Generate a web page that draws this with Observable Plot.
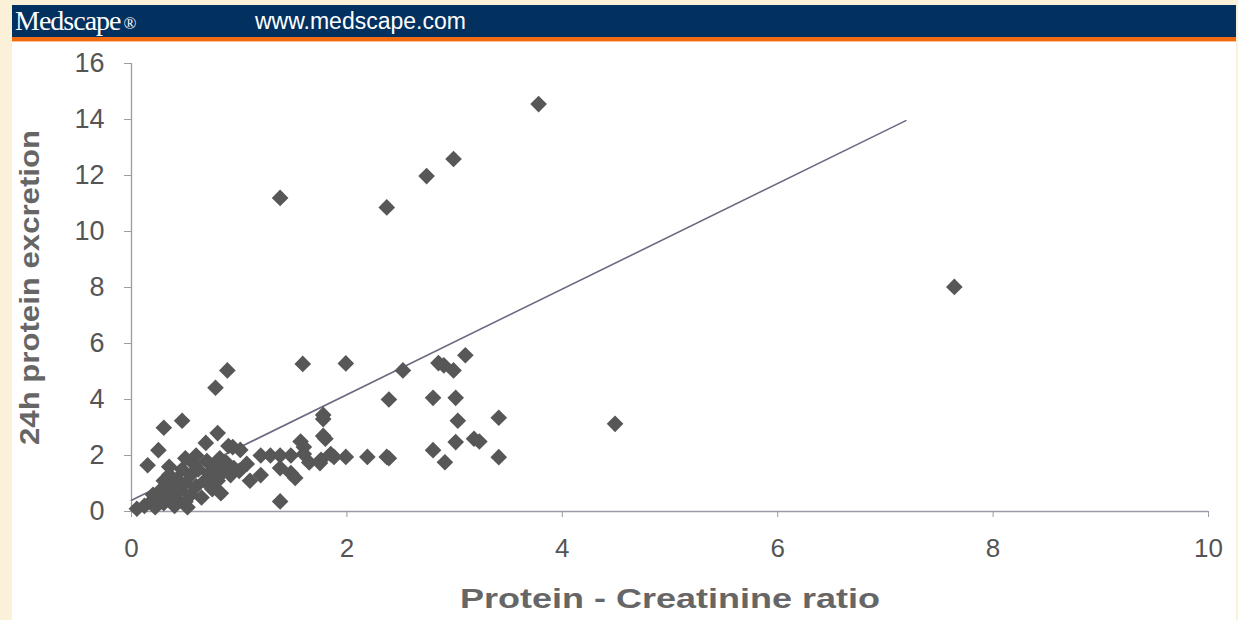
<!DOCTYPE html>
<html>
<head>
<meta charset="utf-8">
<script src="https://cdn.jsdelivr.net/npm/d3@7"></script>
<script src="https://cdn.jsdelivr.net/npm/@observablehq/plot@0.6"></script>
<style>
  html, body { margin: 0; padding: 0; }
  body { width: 1238px; height: 620px; background: #fbf0d8; position: relative; overflow: hidden; font-family: "Liberation Sans", Arial, sans-serif; }
  #panel { position: absolute; left: 12px; top: 5px; width: 1224px; height: 615px; background: #fff; }
  #header { height: 32px; background: #02305f; position: relative; border-bottom: 4px solid #f06a12; box-shadow: 0 1px 0 #fcc08c; }
  #brand { position: absolute; left: 3px; top: 0px; color: #fff; font-family: "Liberation Serif", "DejaVu Serif", serif; font-size: 28px; letter-spacing: -1px; }
  #brand sup { font-size: 17px; vertical-align: 1px; letter-spacing: 0; margin-left: 3px; }
  #url { position: absolute; left: 243px; top: 3px; color: #fff; font-size: 23px; }
  #chart { position: absolute; left: 0; top: 37px; }
</style>
</head>
<body>
<div id="panel">
  <div id="header"><span id="brand">Medscape<sup>®</sup></span><span id="url">www.medscape.com</span></div>
  <div id="chart"></div>
</div>
<script>
// Protein–creatinine ratio (x) and 24h protein excretion (y)
const ratio = [
  3.78, 1.38, 2.37, 2.74, 2.99, 7.64, 4.49,
  1.59, 1.99, 2.52, 2.90, 2.99, 3.10, 2.85,
  0.89, 0.78,
  2.39, 2.80, 3.01, 3.03, 3.41, 3.18, 3.23, 3.01, 2.80, 2.91, 3.41, 1.99, 2.19, 2.39, 2.37,
  1.78, 1.78, 1.78, 1.80, 1.57, 1.60,
  0.30, 0.47, 0.25, 0.15, 0.80, 0.69, 0.90, 1.01, 0.94,
  1.20, 1.29, 1.38, 1.48, 1.60, 1.76, 1.88,
  1.38, 1.38, 1.48, 1.52, 1.10, 1.20, 1.07, 1.65, 1.75, 1.85,
  0.05, 0.12, 0.18, 0.20, 0.22, 0.25, 0.28, 0.30, 0.30, 0.33, 0.35, 0.38, 0.40, 0.40,
  0.42, 0.45, 0.47, 0.50, 0.50, 0.50, 0.52, 0.55, 0.55, 0.58, 0.60, 0.62, 0.65, 0.68,
  0.70, 0.72, 0.75, 0.78, 0.80, 0.82, 0.85, 0.88, 0.92, 0.95, 1.00, 0.60, 0.35, 0.83
];
const excretion = [
  14.55, 11.20, 10.86, 11.98, 12.59, 8.02, 3.13,
  5.27, 5.29, 5.04, 5.22, 5.04, 5.58, 5.30,
  5.04, 4.42,
  4.00, 4.06, 4.06, 3.24, 3.35, 2.60, 2.50, 2.48, 2.19, 1.76, 1.94, 1.95, 1.95, 1.90, 1.95,
  3.45, 3.30, 2.70, 2.60, 2.50, 2.30,
  2.99, 3.24, 2.19, 1.65, 2.80, 2.45, 2.34, 2.20, 2.30,
  2.00, 2.00, 2.00, 2.00, 2.05, 1.85, 1.95,
  0.36, 1.55, 1.37, 1.20, 1.10, 1.30, 1.70, 1.75, 1.73, 2.05,
  0.10, 0.20, 0.35, 0.60, 0.15, 0.45, 0.80, 0.30, 1.10, 0.60, 1.30, 0.90, 0.20, 0.50,
  1.15, 0.75, 1.50, 0.35, 1.00, 1.90, 0.15, 0.60, 1.30, 1.70, 0.90, 1.50, 0.50, 1.10,
  1.80, 1.35, 0.80, 1.60, 1.10, 1.90, 1.40, 1.75, 1.30, 1.55, 1.45, 2.00, 1.60, 0.65
];
// fitted regression line end points
const fitX = [0, 7.19];
const fitY = [0.40, 13.96];
const xTicks = [0, 2, 4, 6, 8, 10];
const yTicks = [0, 2, 4, 6, 8, 10, 12, 14, 16];
const xTitle = "Protein - Creatinine ratio";
const yTitle = "24h protein excretion";

const points = ratio.map((r, i) => ({r, e: excretion[i]}));
const fit = fitX.map((x, i) => ({x, y: fitY[i]}));

const chart = Plot.plot({
  width: 1224,
  height: 580,
  marginLeft: 119,
  marginRight: 28,
  marginTop: 21,
  marginBottom: 111,
  style: {fontFamily: "'Liberation Sans', Arial, sans-serif", background: "transparent", overflow: "visible"},
  x: {domain: [0, 10]},
  y: {domain: [0, 16]},
  marks: [
    Plot.ruleY([0], {stroke: "#9a9aa8", strokeWidth: 1.3}),
    Plot.ruleX([0], {stroke: "#9a9aa8", strokeWidth: 1.3}),
    Plot.axisX({ticks: xTicks, tickSize: 6, tickPadding: 21, fontSize: 26, fill: "#555", stroke: "#9a9aa8", label: null, tickFormat: d => String(d)}),
    Plot.axisY({ticks: yTicks, tickSize: 7, tickPadding: 20, fontSize: 27, fill: "#555", stroke: "#9a9aa8", label: null, tickFormat: d => String(d)}),
    Plot.line(fit, {x: "x", y: "y", stroke: "#6b6b80", strokeWidth: 1.6}),
    Plot.dot(points, {x: "r", y: "e", symbol: "diamond2", r: 7.5, fill: "#575757", stroke: "none"}),
    Plot.text([xTitle], {frameAnchor: "bottom", dy: 96, fontSize: 27, fontWeight: "bold", fill: "#666", className: "xtitle"}),
    Plot.text([yTitle], {frameAnchor: "left", textAnchor: "middle", dx: -101, rotate: -90, fontSize: 27, fontWeight: "bold", fill: "#666", className: "ytitle"})
  ]
});
// stretch the axis titles to the widths they have in the picture
d3.select(chart).selectAll(".xtitle text").attr("textLength", 420).attr("lengthAdjust", "spacingAndGlyphs");
d3.select(chart).selectAll(".ytitle text").attr("textLength", 315).attr("lengthAdjust", "spacingAndGlyphs");
document.getElementById("chart").appendChild(chart);
</script>
</body>
</html>
